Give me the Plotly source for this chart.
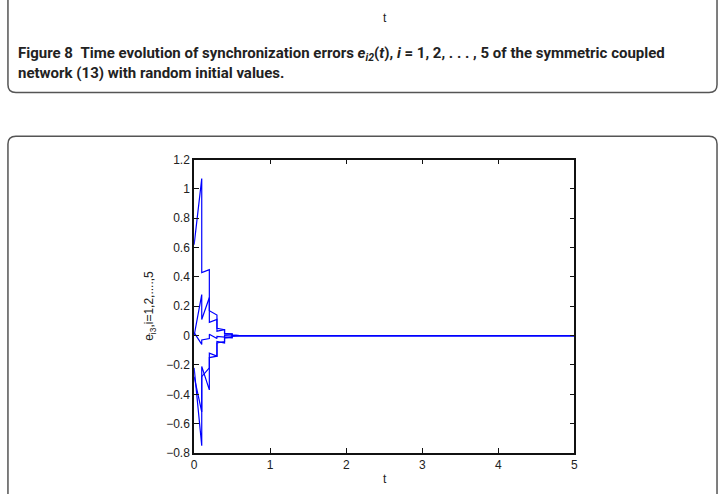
import plotly.graph_objects as go

W, H = 723, 494

# ---- data ----
t = [0, 0.1, 0.1, 0.2, 0.2, 0.3, 0.3, 0.4, 0.4, 0.5, 0.5, 0.6, 5]
e13 = [0.62, 1.07, 0.43, 0.45, 0.17, 0.14, 0.05, 0.04, 0.015, 0.01, 0.003, 0.0, 0.0]
e23 = [0.0, 0.28, 0.11, 0.26, 0.09, 0.11, 0.03, 0.04, 0.01, 0.012, 0.003, 0.0, 0.0]
e33 = [0.02, -0.06, -0.03, -0.02, 0.01, -0.02, -0.005, -0.01, 0.0, -0.003, 0.0, 0.0, 0.0]
e43 = [-0.28, -0.52, -0.28, -0.22, -0.12, -0.14, -0.04, -0.05, -0.012, -0.015, -0.003, 0.0, 0.0]
e53 = [-0.22, -0.75, -0.21, -0.37, -0.15, -0.14, -0.05, -0.04, -0.015, -0.01, -0.003, 0.0, 0.0]
series = [e13, e23, e33, e43, e53]

x_ticks = [0, 1, 2, 3, 4, 5]
x_labels = ["0", "1", "2", "3", "4", "5"]
y_ticks = [-0.8, -0.6, -0.4, -0.2, 0, 0.2, 0.4, 0.6, 0.8, 1, 1.2]
y_labels = ["\u22120.8", "\u22120.6", "\u22120.4", "\u22120.2", "0", "0.2", "0.4", "0.6", "0.8", "1", "1.2"]


def px(x):
    return x / W


def py(y):
    return 1 - y / H


fig = go.Figure()
for s in series:
    fig.add_trace(go.Scatter(x=t, y=s, mode="lines",
                             line=dict(color="#0000ff", width=1.2),
                             showlegend=False, hoverinfo="skip"))

axis_common = dict(showline=True, linecolor="#111", linewidth=1.8, mirror="ticks",
                   ticks="inside", ticklen=5, tickwidth=1, tickcolor="#111",
                   showgrid=False, zeroline=False,
                   tickfont=dict(family="Liberation Sans", size=12, color="#222"))

fig.update_layout(
    width=W, height=H, margin=dict(l=0, r=0, t=0, b=0),
    paper_bgcolor="white", plot_bgcolor="white",
    xaxis=dict(domain=[px(193), px(577)], range=[0, 5], tickvals=x_ticks,
               ticktext=x_labels, **axis_common),
    yaxis=dict(domain=[py(459), py(157)], range=[-0.8, 1.2], tickvals=y_ticks,
               ticktext=y_labels, **axis_common),
)


def rounded_bottom(x0, x1, ytop, ybot, r):
    return (f"M {px(x0)},{py(ytop)} L {px(x0)},{py(ybot - r)} "
            f"Q {px(x0)},{py(ybot)} {px(x0 + r)},{py(ybot)} "
            f"L {px(x1 - r)},{py(ybot)} Q {px(x1)},{py(ybot)} {px(x1)},{py(ybot - r)} "
            f"L {px(x1)},{py(ytop)}")


def rounded_top(x0, x1, ytop, ybot, r):
    return (f"M {px(x0)},{py(ybot)} L {px(x0)},{py(ytop + r)} "
            f"Q {px(x0)},{py(ytop)} {px(x0 + r)},{py(ytop)} "
            f"L {px(x1 - r)},{py(ytop)} Q {px(x1)},{py(ytop)} {px(x1)},{py(ytop + r)} "
            f"L {px(x1)},{py(ybot)}")


box_line = dict(color="#555", width=1.5)
fig.add_shape(type="path", xref="paper", yref="paper",
              path=rounded_bottom(5, 721, -20, 88, 8), line=box_line)
fig.add_shape(type="path", xref="paper", yref="paper",
              path=rounded_top(5, 721, 133, 520, 8), line=box_line)

lab_font = dict(family="Liberation Sans", size=12, color="#222")
# axis titles
fig.add_annotation(x=px(386), y=py(486), xref="paper", yref="paper", text="t",
                   xanchor="center", yanchor="middle", showarrow=False, font=lab_font)
fig.add_annotation(x=px(149), y=py(308), xref="paper", yref="paper",
                   text="e<sub>i3</sub>,i=1,2,....,5", textangle=-90,
                   xanchor="center", yanchor="middle", showarrow=False, font=lab_font)

# previous figure's x-axis title (top)
fig.add_annotation(x=px(386), y=py(11), xref="paper", yref="paper", text="t",
                   xanchor="center", yanchor="middle", showarrow=False, font=lab_font)

# caption
cap_font = dict(family="Roboto", size=15, color="#222")
fig.add_annotation(x=px(13), y=py(58), xref="paper", yref="paper",
                   xanchor="left", yanchor="middle", align="left",
                   text="<b>Figure 8&nbsp;&nbsp;Time evolution of synchronization errors "
                        "<i>e<sub>i2</sub></i>(<i>t</i>), <i>i</i> = 1, 2, . . . , 5 "
                        "of the symmetric coupled<br>"
                        "network (13) with random initial values.</b>",
                   showarrow=False, font=cap_font)

fig.write_html("out.html")
